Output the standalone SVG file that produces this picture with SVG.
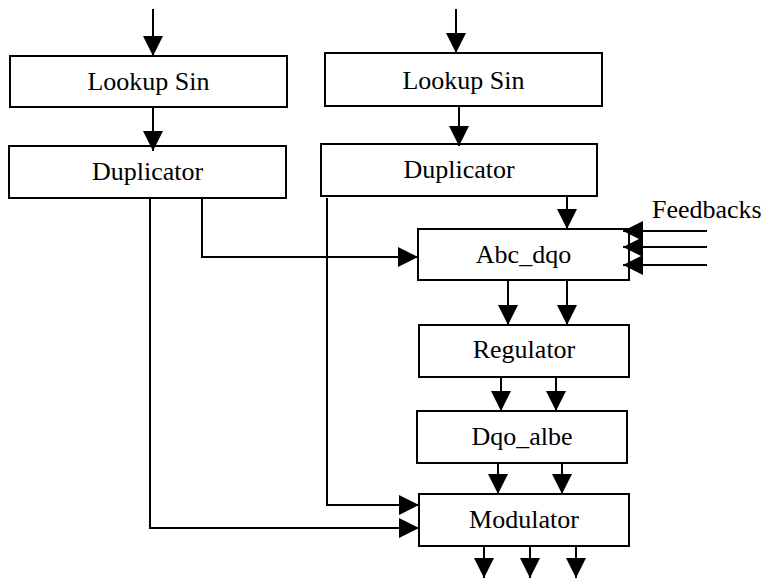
<svg xmlns="http://www.w3.org/2000/svg" width="764" height="580" viewBox="0 0 764 580">
<style>
.box{fill:#fff;stroke:#000;stroke-width:2}
.lbl{font-family:'Liberation Serif','Times New Roman','DejaVu Serif',serif;font-size:26px;fill:#000;text-anchor:middle}
.c{fill:none;stroke:#000;stroke-width:2;marker-end:url(#ah)}
</style>
<defs>
<marker id="ah" markerUnits="userSpaceOnUse" markerWidth="20" markerHeight="20" viewBox="0 0 20 20" refX="20" refY="10" orient="auto">
<path d="M0,0 L20,10 L0,20 z" fill="#000"/>
</marker>
</defs>
<rect width="764" height="580" fill="#fff"/>
<g id="lookup1"><rect class="box" x="10" y="56" width="277" height="51"/><text class="lbl" font-family="Liberation Serif, serif" x="148.5" y="90">Lookup Sin</text></g>
<g id="dup1"><rect class="box" x="9" y="146" width="277" height="52"/><text class="lbl" font-family="Liberation Serif, serif" x="147.5" y="180">Duplicator</text></g>
<g id="lookup2"><rect class="box" x="325" y="53" width="277" height="53"/><text class="lbl" font-family="Liberation Serif, serif" x="463.5" y="89">Lookup Sin</text></g>
<g id="dup2"><rect class="box" x="321" y="144" width="276" height="52"/><text class="lbl" font-family="Liberation Serif, serif" x="459" y="178">Duplicator</text></g>
<g id="abc"><rect class="box" x="418" y="229" width="211" height="51"/><text class="lbl" font-family="Liberation Serif, serif" x="523.5" y="263">Abc_dqo</text></g>
<g id="reg"><rect class="box" x="419" y="325" width="210" height="52"/><text class="lbl" font-family="Liberation Serif, serif" x="524" y="358">Regulator</text></g>
<g id="dqo"><rect class="box" x="417" y="411" width="210" height="52"/><text class="lbl" font-family="Liberation Serif, serif" x="522" y="445">Dqo_albe</text></g>
<g id="mod"><rect class="box" x="419" y="494" width="210" height="52"/><text class="lbl" font-family="Liberation Serif, serif" x="524" y="528">Modulator</text></g>
<g id="feedbacks-label"><text class="lbl" font-family="Liberation Serif, serif" x="652" y="218" text-anchor="start" style="text-anchor:start">Feedbacks</text></g>
<g id="connectors">
<path class="c" d="M153,9 V56"/>
<path class="c" d="M153,107 V151"/>
<path class="c" d="M456,9 V53"/>
<path class="c" d="M459,106 V146"/>
<path class="c" d="M567,196 V229"/>
<path class="c" d="M202,198 V257 H418"/>
<path class="c" d="M150,198 V528 H419"/>
<path class="c" d="M327,198 V505 H419"/>
<path class="c" d="M707,231 H623"/>
<path class="c" d="M707,247 H623"/>
<path class="c" d="M707,265 H623"/>
<path class="c" d="M508,280 V325"/>
<path class="c" d="M567,280 V325"/>
<path class="c" d="M501,377 V411"/>
<path class="c" d="M556,377 V411"/>
<path class="c" d="M498,463 V494"/>
<path class="c" d="M562,463 V494"/>
<path class="c" d="M484,546 V578"/>
<path class="c" d="M530,546 V578"/>
<path class="c" d="M576,546 V578"/>
</g>
</svg>
